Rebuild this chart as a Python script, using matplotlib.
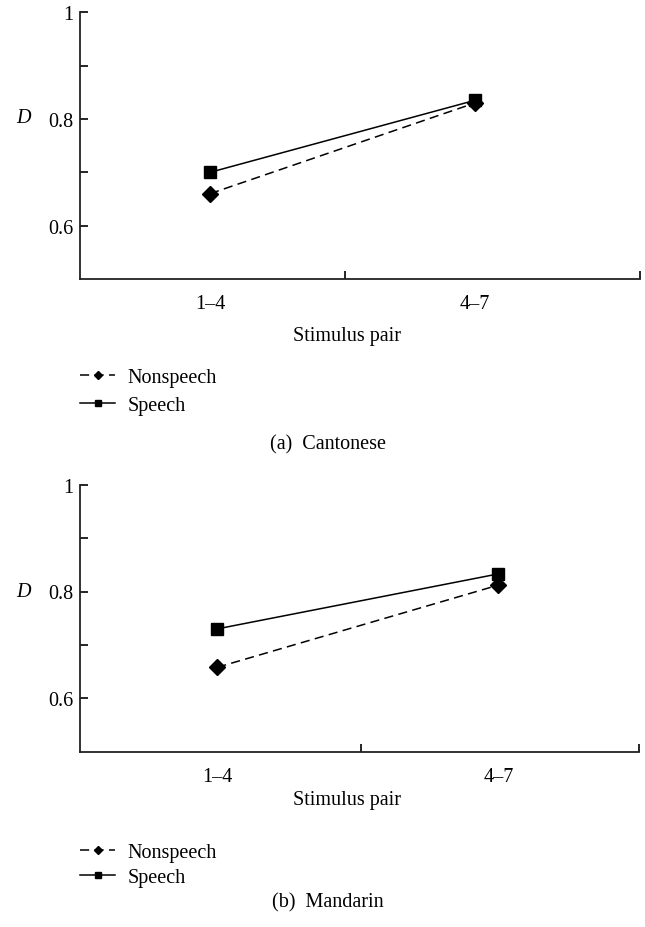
import matplotlib
matplotlib.use("Agg")
import matplotlib.pyplot as plt
import numpy as np

plt.rcParams['font.family'] = ['Liberation Serif', 'DejaVu Serif']

categories = ['1–4', '4–7']
cantonese_nonspeech = [0.66, 0.83]
cantonese_speech = [0.70, 0.835]
mandarin_nonspeech = [0.658, 0.812]
mandarin_speech = [0.73, 0.833]
y_ticks = [0.6, 0.8, 1.0]
y_tick_labels = ['0.6', '0.8', '1']
y_minor = [0.7, 0.9]
panel_titles = ['(a)  Cantonese', '(b)  Mandarin']
series_names = ['Nonspeech', 'Speech']

W, H = 645, 928
fig = plt.figure(figsize=(W / 100, H / 100), dpi=100)

FS = 14.5

def px_ax(l, r, t, b):
    return [l / W, 1 - b / H, (r - l) / W, (b - t) / H]

panels = [
    dict(rect=px_ax(80, 640, 13.3, 280), xlim=(0.509, 2.623), mid=1.509,
         ns=cantonese_nonspeech, sp=cantonese_speech, title=panel_titles[0],
         D_y=118.5, xl_y=337, leg_top=369, leg_sp=0.42, title_y=445),
    dict(rect=px_ax(80, 639, 485.7, 752.7), xlim=(0.512, 2.50), mid=1.51,
         ns=mandarin_nonspeech, sp=mandarin_speech, title=panel_titles[1],
         D_y=592.5, xl_y=801, leg_top=844, leg_sp=0.3, title_y=903),
]

for p in panels:
    ax = fig.add_axes(p['rect'])
    x = np.arange(1, len(categories) + 1)
    ax.plot(x, p['ns'], color='black', lw=1.1, ls=(0, (6, 3.5)), marker='D',
            markersize=8, label=series_names[0])
    ax.plot(x, p['sp'], color='black', lw=1.1, ls='-', marker='s',
            markersize=9, label=series_names[1])
    ax.set_xlim(*p['xlim'])
    ax.set_ylim(0.5, 1.0)
    for s in ['top', 'right']:
        ax.spines[s].set_visible(False)
    for s in ['left', 'bottom']:
        ax.spines[s].set_linewidth(1.3)
        ax.spines[s].set_color('#222222')
    ax.set_yticks(y_ticks)
    ax.set_yticklabels(y_tick_labels)
    ax.set_yticks(y_minor, minor=True)
    ax.tick_params(axis='y', which='both', direction='in', length=6, width=1.2,
                   labelsize=FS, pad=5)
    ax.set_xticks(x)
    ax.set_xticklabels(categories)
    ax.tick_params(axis='x', which='major', length=0, labelsize=FS, pad=11)
    ax.set_xticks([p['mid'], p['xlim'][1]], minor=True)
    ax.tick_params(axis='x', which='minor', direction='in', length=6, width=1.2)
    fig.text(23 / W, 1 - p['D_y'] / H, 'D', fontsize=FS, style='italic',
             ha='center', va='center')
    fig.text(347 / W, 1 - p['xl_y'] / H, 'Stimulus pair', fontsize=FS,
             ha='center', va='center')
    fig.text(328 / W, 1 - p['title_y'] / H, p['title'], fontsize=FS,
             ha='center', va='center')
    leg = ax.legend(loc='upper left', bbox_to_anchor=(80 / W, 1 - p['leg_top'] / H),
                    bbox_transform=fig.transFigure, frameon=False, fontsize=FS,
                    borderpad=0, borderaxespad=0, handlelength=1.75,
                    handletextpad=0.6, labelspacing=p['leg_sp'], markerscale=0.55)

fig.savefig('out.png', dpi=100)
